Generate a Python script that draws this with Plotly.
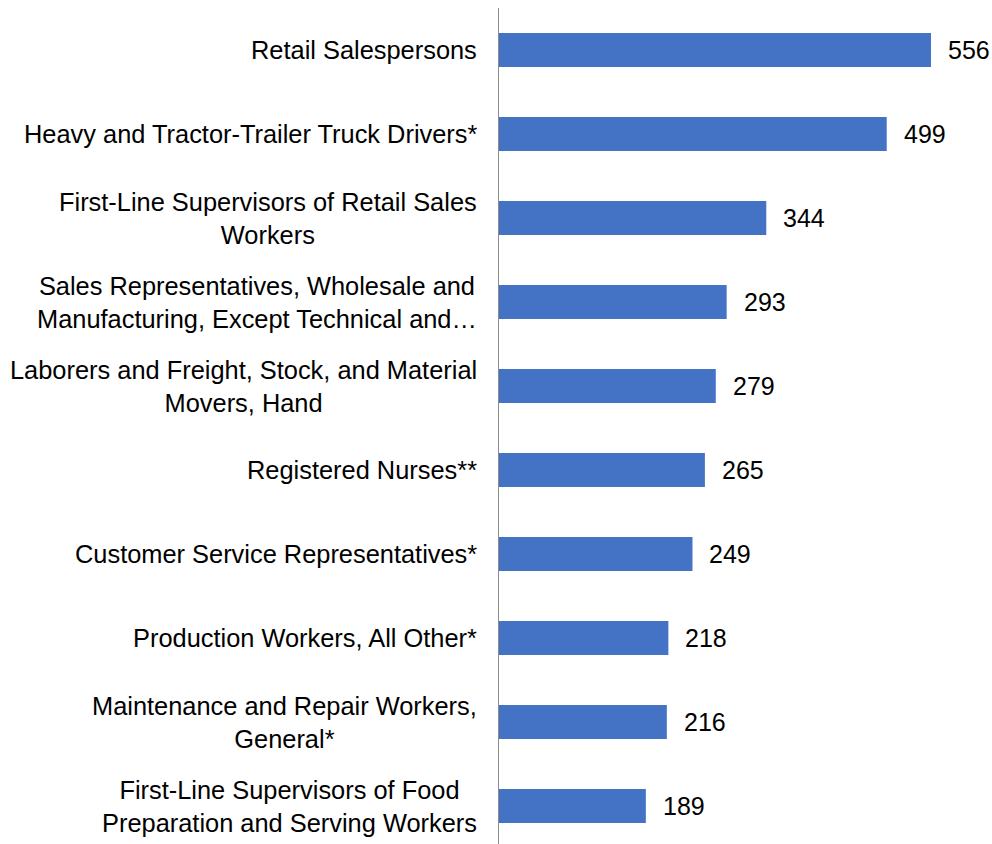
import plotly.graph_objects as go

categories = [
    "Retail Salespersons",
    "Heavy and Tractor-Trailer Truck Drivers*",
    "First-Line Supervisors of Retail Sales<br>Workers",
    "Sales Representatives, Wholesale and<br>Manufacturing, Except Technical and…",
    "Laborers and Freight, Stock, and Material<br>Movers, Hand",
    "Registered Nurses**",
    "Customer Service Representatives*",
    "Production Workers, All Other*",
    "Maintenance and Repair Workers,<br>General*",
    "First-Line Supervisors of Food<br>Preparation and Serving Workers",
]
values = [556, 499, 344, 293, 279, 265, 249, 218, 216, 189]

FONT = "Liberation Sans, Arial, sans-serif"
FS = 25.4

fig = go.Figure(go.Bar(
    x=values, y=categories, orientation="h",
    marker=dict(color="#4472C4", line=dict(width=0)),
    width=0.405,
    hoverinfo="skip",
))

annotations = []
for c, v in zip(categories, values):
    annotations.append(dict(
        x=0, xref="paper", y=c, yref="y", text=c, showarrow=False,
        xanchor="right", yanchor="middle", align="center",
        xshift=-20,
        font=dict(family=FONT, size=FS, color="#000000"),
    ))
    annotations.append(dict(
        x=v, xref="x", y=c, yref="y", text=str(v), showarrow=False,
        xanchor="left", yanchor="middle", xshift=15,
        font=dict(family=FONT, size=25, color="#000000"),
    ))

fig.update_layout(
    width=992, height=844,
    margin=dict(l=499, r=0, t=8, b=0),
    paper_bgcolor="white", plot_bgcolor="white",
    showlegend=False,
    annotations=annotations,
    xaxis=dict(range=[0, 634.5], showgrid=False, zeroline=False,
               showticklabels=False, showline=False, fixedrange=True),
    yaxis=dict(range=[9.452, -0.5], showgrid=False, zeroline=False,
               showticklabels=False, showline=True, linecolor="#8c8c8c",
               linewidth=1, ticks="", fixedrange=True),
)

fig.write_html(
    "out.html",
    config={"displayModeBar": False, "staticPlot": True},
    post_script="document.body.style.margin='0px';document.body.style.overflow='hidden';",
)
